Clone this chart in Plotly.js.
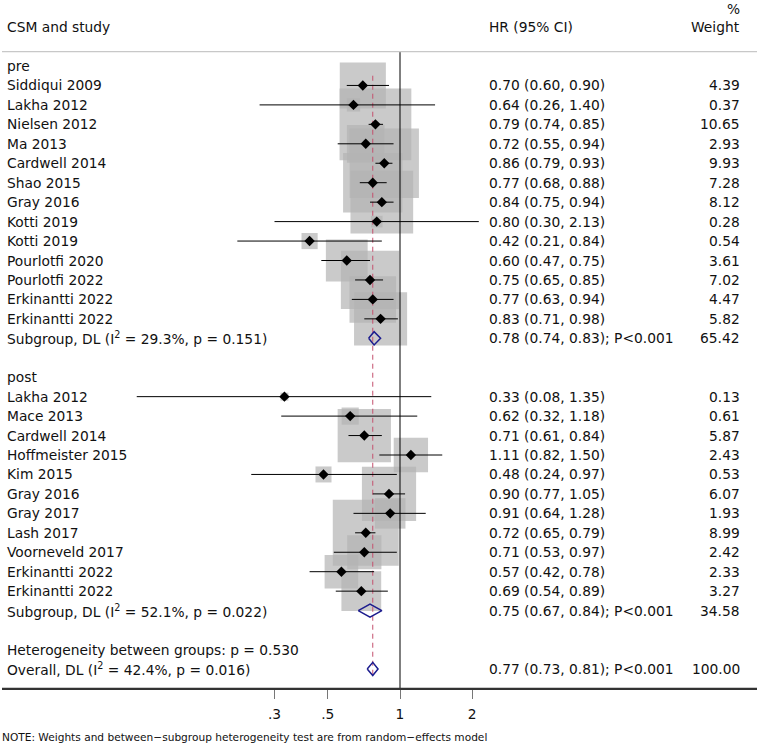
<!DOCTYPE html>
<html>
<head>
<meta charset="utf-8">
<script src="https://cdn.plot.ly/plotly-3.0.1.min.js"></script>
<style>
  html, body { margin: 0; padding: 0; background: #fff; }
  #chart { width: 759px; height: 745px; }
</style>
</head>
<body>
<div id="chart"></div>
<script>
// ---- study-level data: hazard ratios, 95% CI and random-effects weights (%) ----
const preStudies = ['Siddiqui 2009','Lakha 2012','Nielsen 2012','Ma 2013','Cardwell 2014','Shao 2015','Gray 2016','Kotti 2019','Kotti 2019','Pourlotfi 2020','Pourlotfi 2022','Erkinantti 2022','Erkinantti 2022'];
const preHR     = [0.70, 0.64, 0.79, 0.72, 0.86, 0.77, 0.84, 0.80, 0.42, 0.60, 0.75, 0.77, 0.83];
const preLo     = [0.60, 0.26, 0.74, 0.55, 0.79, 0.68, 0.75, 0.30, 0.21, 0.47, 0.65, 0.63, 0.71];
const preHi     = [0.90, 1.40, 0.85, 0.94, 0.93, 0.88, 0.94, 2.13, 0.84, 0.75, 0.85, 0.94, 0.98];
const preW      = [4.39, 0.37, 10.65, 2.93, 9.93, 7.28, 8.12, 0.28, 0.54, 3.61, 7.02, 4.47, 5.82];

const postStudies = ['Lakha 2012','Mace 2013','Cardwell 2014','Hoffmeister 2015','Kim 2015','Gray 2016','Gray 2017','Lash 2017','Voorneveld 2017','Erkinantti 2022','Erkinantti 2022'];
const postHR      = [0.33, 0.62, 0.71, 1.11, 0.48, 0.90, 0.91, 0.72, 0.71, 0.57, 0.69];
const postLo      = [0.08, 0.32, 0.61, 0.82, 0.24, 0.77, 0.64, 0.65, 0.53, 0.42, 0.54];
const postHi      = [1.35, 1.18, 0.84, 1.50, 0.97, 1.05, 1.28, 0.79, 0.97, 0.78, 0.89];
const postW       = [0.13, 0.61, 5.87, 2.43, 0.53, 6.07, 1.93, 8.99, 2.42, 2.33, 3.27];

// ---- pooled estimates ----
const groupNames = ['pre', 'post'];
const groupHR    = [0.78, 0.75];
const groupLo    = [0.74, 0.67];
const groupHi    = [0.83, 0.84];
const groupW     = [65.42, 34.58];
const groupI2    = ['29.3', '52.1'];
const groupP     = ['0.151', '0.022'];

const overallHR = 0.77, overallLo = 0.73, overallHi = 0.81, overallW = 100.00;
const overallI2 = '42.4', overallP = '0.016';
const betweenP  = '0.530';

const tickVals   = [0.3, 0.5, 1, 2];
const tickLabels = ['.3', '.5', '1', '2'];

// ---- build the row layout (row index grows downward) ----
const rows = [];   // {kind, label, hr, lo, hi, w}
function addGroup(g, names, hr, lo, hi, w) {
  rows.push({kind: 'head', label: groupNames[g]});
  names.forEach((n, i) => rows.push({kind: 'study', label: n, hr: hr[i], lo: lo[i], hi: hi[i], w: w[i]}));
  rows.push({kind: 'sub', label: 'Subgroup, DL (I<sup>2</sup> = ' + groupI2[g] + '%, p = ' + groupP[g] + ')',
             hr: groupHR[g], lo: groupLo[g], hi: groupHi[g], w: groupW[g]});
  rows.push({kind: 'blank'});
}
addGroup(0, preStudies, preHR, preLo, preHi, preW);
addGroup(1, postStudies, postHR, postLo, postHi, postW);
rows.push({kind: 'het', label: 'Heterogeneity between groups: p = ' + betweenP});
rows.push({kind: 'sub', label: 'Overall, DL (I<sup>2</sup> = ' + overallI2 + '%, p = ' + overallP + ')',
           hr: overallHR, lo: overallLo, hi: overallHi, w: overallW, overall: true});

// ---- geometry ----
const W = 759, H = 745;
const M = {l: 2, r: 2, t: 51, b: 56};
const plotW = W - M.l - M.r;
const plotH = H - M.t - M.b;
const pxPerDecade = 240;
const xLeft = -(400 - M.l) / pxPerDecade;          // log10 at left edge, puts HR=1 at x=400px
const xRight = xLeft + plotW / pxPerDecade;
const rowPx = 19.45, firstRowPx = 66;
const yTop = (M.t - firstRowPx) / rowPx;
const yBottom = (H - M.b - firstRowPx) / rowPx;
const px2paperX = px => (px - M.l) / plotW;
const px2paperY = py => (H - M.b - py) / plotH;

const font = 'DejaVu Sans, sans-serif';
const fs = 13.8;
const txtColor = '#111';

// ---- traces ----
const studyRows = rows.map((r, i) => ({...r, y: i})).filter(r => r.kind === 'study');
const poolRows  = rows.map((r, i) => ({...r, y: i})).filter(r => r.kind === 'sub');

const boxes = {
  type: 'scatter', mode: 'markers', hoverinfo: 'skip',
  x: studyRows.map(r => r.hr), y: studyRows.map(r => r.y),
  marker: {symbol: 'square', size: studyRows.map(r => 22 * Math.sqrt(r.w)), color: 'rgb(180,180,180)', line: {width: 0}},
  cliponaxis: false
};

const nullLine = {
  type: 'scatter', mode: 'lines', hoverinfo: 'skip',
  x: [1, 1], y: [yTop, yBottom],
  line: {color: '#000', width: 1}
};

const firstStudy = rows.findIndex(r => r.kind === 'study');
const overallLine = {
  type: 'scatter', mode: 'lines', hoverinfo: 'skip',
  x: [overallHR, overallHR], y: [firstStudy - 0.5, rows.length - 0.5],
  line: {color: '#c4506e', width: 1, dash: '5px,4px'}
};

const ciX = [], ciY = [];
studyRows.forEach(r => { ciX.push(r.lo, r.hi, null); ciY.push(r.y, r.y, null); });
const ciLines = {
  type: 'scatter', mode: 'lines', hoverinfo: 'skip',
  x: ciX, y: ciY, line: {color: '#000', width: 1}
};

const points = {
  type: 'scatter', mode: 'markers', hoverinfo: 'skip',
  x: studyRows.map(r => r.hr), y: studyRows.map(r => r.y),
  marker: {symbol: 'diamond', size: 8, color: '#000', line: {width: 0}}
};

const dX = [], dY = [];
const dh = 0.34;
poolRows.forEach(r => {
  dX.push(r.lo, r.hr, r.hi, r.hr, r.lo, null);
  dY.push(r.y, r.y - dh, r.y, r.y + dh, r.y, null);
});
const diamonds = {
  type: 'scatter', mode: 'lines', hoverinfo: 'skip',
  x: dX, y: dY, line: {color: '#1c1c8e', width: 1.5}
};

// ---- text columns ----
const ann = [];
function txt(px, y, text, anchor) {
  ann.push({xref: 'paper', yref: 'y', x: px2paperX(px), y: y, text: text, showarrow: false,
            xanchor: anchor, yanchor: 'middle', font: {family: font, size: fs, color: txtColor}});
}
function hdr(px, py, text, anchor) {
  ann.push({xref: 'paper', yref: 'paper', x: px2paperX(px), y: px2paperY(py), text: text, showarrow: false,
            xanchor: anchor, yanchor: 'middle', font: {family: font, size: fs, color: txtColor}});
}
const colLeft = 5, colHR = 487, colW = 742;
hdr(colLeft, 27, 'CSM and study', 'left');
hdr(colHR, 27, 'HR (95% CI)', 'left');
hdr(colW, 27, 'Weight', 'right');
hdr(colW, 9, '%', 'right');

const f2 = v => v.toFixed(2);
rows.forEach((r, i) => {
  if (r.kind === 'blank') return;
  txt(colLeft, i, r.label, 'left');
  if (r.kind === 'study') {
    txt(colHR, i, f2(r.hr) + ' (' + f2(r.lo) + ', ' + f2(r.hi) + ')', 'left');
    txt(colW, i, f2(r.w), 'right');
  } else if (r.kind === 'sub') {
    txt(colHR, i, f2(r.hr) + ' (' + f2(r.lo) + ', ' + f2(r.hi) + '); P<0.001', 'left');
    txt(colW, i, f2(r.w), 'right');
  }
});

ann.push({xref: 'paper', yref: 'paper', x: px2paperX(0), y: px2paperY(737),
          text: 'NOTE: Weights and between\u2212subgroup heterogeneity test are from random\u2212effects model',
          showarrow: false, xanchor: 'left', yanchor: 'middle', font: {family: font, size: 10.6, color: txtColor}});

// rule lines sit a fraction of a pixel inside the plotting area so they are never clipped
const ruleTop = yTop + 0.6 / rowPx;
const ruleBottom = yBottom - 0.6 / rowPx;

const layout = {
  width: W, height: H, margin: M,
  paper_bgcolor: '#fff', plot_bgcolor: '#fff',
  showlegend: false,
  xaxis: {
    type: 'log', range: [xLeft, xRight], domain: [0, 1],
    showgrid: false, zeroline: false,
    showline: true, linecolor: '#333', linewidth: 1,
    ticks: 'outside', ticklen: 9, tickcolor: '#777', tickwidth: 1,
    tickvals: tickVals, ticktext: tickLabels, ticklabelstandoff: 3,
    tickfont: {family: font, size: fs, color: txtColor},
    fixedrange: true
  },
  yaxis: {
    range: [yBottom, yTop],
    showgrid: false, zeroline: false, showline: false, showticklabels: false, ticks: '',
    fixedrange: true
  },
  shapes: [
    // rule under the column headers
    {type: 'line', xref: 'paper', yref: 'y', x0: 0, x1: 1, y0: ruleTop, y1: ruleTop, layer: 'above', line: {color: '#c8c8c8', width: 1.2}},
    // horizontal axis line across the full width
    {type: 'line', xref: 'paper', yref: 'y', x0: 0, x1: 1, y0: ruleBottom, y1: ruleBottom, layer: 'above', line: {color: '#333', width: 1.2}}
  ],
  annotations: ann
};

Plotly.newPlot('chart', [boxes, nullLine, overallLine, ciLines, points, diamonds], layout, {staticPlot: true});
</script>
</body>
</html>
